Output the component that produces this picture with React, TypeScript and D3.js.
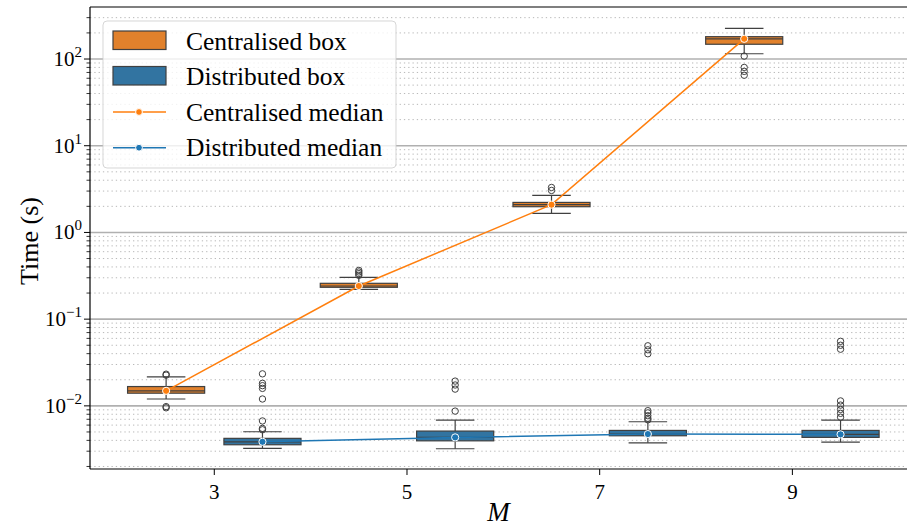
import React from 'react'
import * as d3 from 'd3'

// values (seconds)
const mValues = [3, 5, 7, 9]

const centralisedLow = [0.012, 0.221, 1.66, 115]
const centralisedQ1 = [0.014, 0.233, 1.98, 148]
const centralisedMedian = [0.0149, 0.241, 2.09, 171]
const centralisedQ3 = [0.0167, 0.259, 2.22, 181]
const centralisedHigh = [0.0216, 0.303, 2.68, 226]
const centralisedOutliers = [
    [0.0232, 0.0226, 0.0098, 0.0095],
    [0.365, 0.35, 0.335, 0.32],
    [3.3, 3.05],
    [108, 80, 72, 65],
]

const distributedLow = [0.00324, 0.0032, 0.00375, 0.00382]
const distributedQ1 = [0.00356, 0.00395, 0.00452, 0.00433]
const distributedMedian = [0.00385, 0.00433, 0.00473, 0.00469]
const distributedQ3 = [0.00422, 0.00512, 0.00521, 0.00521]
const distributedHigh = [0.00503, 0.00686, 0.00656, 0.00686]
const distributedOutliers = [
    [0.0234, 0.0182, 0.0171, 0.0159, 0.012, 0.0067, 0.0055, 0.0053],
    [0.0193, 0.0174, 0.0156, 0.0087],
    [0.0493, 0.0443, 0.0399, 0.0088, 0.0083, 0.0077, 0.0072, 0.0069],
    [0.0555, 0.05, 0.045, 0.0114, 0.0102, 0.0091, 0.0082, 0.0074],
]

const majorTicks = [1e-2, 1e-1, 1e0, 1e1, 1e2]
const majorExponents = ['\u22122', '\u22121', '0', '1', '2']

const legendLabels = ['Centralised box', 'Distributed box', 'Centralised median', 'Distributed median']

const W = 907
const H = 527
const left = 90
const top = 7
const bottom = 469
const right = 908

const FONT = "'Liberation Serif', 'DejaVu Serif', serif"
const EDGE = '#404040'

const series = [
    {
        name: 'centralised',
        offset: -0.5,
        fill: '#e1812c',
        line: '#ff7f0e',
        low: centralisedLow,
        q1: centralisedQ1,
        median: centralisedMedian,
        q3: centralisedQ3,
        high: centralisedHigh,
        outliers: centralisedOutliers,
    },
    {
        name: 'distributed',
        offset: 0.5,
        fill: '#3274a1',
        line: '#1f77b4',
        low: distributedLow,
        q1: distributedQ1,
        median: distributedMedian,
        q3: distributedQ3,
        high: distributedHigh,
        outliers: distributedOutliers,
    },
]

const x = d3.scaleLinear().domain([1.71, 10.2]).range([left, right])
const y = d3.scaleLog().domain([0.00187, 398]).range([bottom, top])

const boxWidth = x(0.8) - x(0)

// minor ticks 2..9 of every decade inside the domain
const minorTicks: number[] = []
for (let e = -3; e <= 2; e++) {
    for (let k = 2; k <= 9; k++) {
        const v = k * Math.pow(10, e)
        if (v > y.domain()[0] && v < y.domain()[1]) minorTicks.push(v)
    }
}

const Box = ({ s, i }) => {
    const cx = x(mValues[i] + s.offset)
    const x0 = cx - boxWidth / 2
    const cap = boxWidth / 4
    return (
        <g>
            <line x1={cx} x2={cx} y1={y(s.q3[i])} y2={y(s.high[i])} stroke={EDGE} strokeWidth={1.2} />
            <line x1={cx} x2={cx} y1={y(s.q1[i])} y2={y(s.low[i])} stroke={EDGE} strokeWidth={1.2} />
            <line x1={cx - cap} x2={cx + cap} y1={y(s.high[i])} y2={y(s.high[i])} stroke={EDGE} strokeWidth={1.2} />
            <line x1={cx - cap} x2={cx + cap} y1={y(s.low[i])} y2={y(s.low[i])} stroke={EDGE} strokeWidth={1.2} />
            <rect
                x={x0}
                y={y(s.q3[i])}
                width={boxWidth}
                height={y(s.q1[i]) - y(s.q3[i])}
                fill={s.fill}
                stroke={EDGE}
                strokeWidth={1.2}
            />
            <line x1={x0} x2={x0 + boxWidth} y1={y(s.median[i])} y2={y(s.median[i])} stroke={EDGE} strokeWidth={1.2} />
            {s.outliers[i].map((v, j) => (
                <circle key={j} cx={cx} cy={y(v)} r={3.2} fill='none' stroke={EDGE} strokeWidth={1} />
            ))}
        </g>
    )
}

const App = () => {
    return (
        <svg width={W} height={H} style={{ position: 'absolute', left: 0, top: 0 }} fontFamily={FONT}>
            <defs>
                <clipPath id='plot'>
                    <rect x={left} y={top} width={right - left} height={bottom - top} />
                </clipPath>
            </defs>
            <rect width={W} height={H} fill='white' />

            {/* grid */}
            <g clipPath='url(#plot)'>
                {minorTicks.map(v => (
                    <line key={v} x1={left} x2={right} y1={y(v)} y2={y(v)} stroke='#b8b8b8' strokeWidth={1} strokeDasharray='1.3 3' />
                ))}
                {majorTicks.map(v => (
                    <line key={v} x1={left} x2={right} y1={y(v)} y2={y(v)} stroke='#b0b0b0' strokeWidth={1.6} />
                ))}
            </g>

            {/* boxes and median lines */}
            <g clipPath='url(#plot)'>
                {series.map(s => mValues.map((m, i) => (
                    <Box key={s.name + m} s={s} i={i} />
                )))}
                {series.map(s => {
                    const medianLine = d3
                        .line<number>()
                        .x((d, i) => x(mValues[i] + s.offset))
                        .y(d => y(d))
                    return (
                        <g key={s.name}>
                            <path d={medianLine(s.median) || ''} fill='none' stroke={s.line} strokeWidth={1.5} />
                            {s.median.map((v, i) => (
                                <circle key={i} cx={x(mValues[i] + s.offset)} cy={y(v)} r={3.6} fill={s.line} stroke='white' strokeWidth={1} />
                            ))}
                        </g>
                    )
                })}
            </g>

            {/* spines */}
            <line x1={left} x2={left} y1={top} y2={bottom} stroke='#000' strokeWidth={1.2} />
            <line x1={left} x2={right} y1={bottom} y2={bottom} stroke='#000' strokeWidth={1.2} />
            <line x1={left} x2={right} y1={top} y2={top} stroke='#000' strokeWidth={1.2} />

            {/* y axis */}
            {minorTicks.map(v => (
                <line key={v} x1={left - 3.5} x2={left} y1={y(v)} y2={y(v)} stroke='#000' strokeWidth={0.8} />
            ))}
            {majorTicks.map((v, i) => (
                <g key={v}>
                    <line x1={left - 6} x2={left} y1={y(v)} y2={y(v)} stroke='#000' strokeWidth={1} />
                    <text x={left - 8} y={y(v) + 7} textAnchor='end' fontSize={21} fill='#000'>
                        10
                        <tspan dy={-9} fontSize={15}>{majorExponents[i]}</tspan>
                    </text>
                </g>
            ))}
            <text transform={`translate(38, 241) rotate(-90)`} textAnchor='middle' fontSize={26} fill='#000'>
                Time (s)
            </text>

            {/* x axis */}
            {mValues.map(m => (
                <g key={m}>
                    <line x1={x(m)} x2={x(m)} y1={bottom} y2={bottom + 6} stroke='#000' strokeWidth={1} />
                    <text x={x(m)} y={bottom + 30} textAnchor='middle' fontSize={21} fill='#000'>
                        {m}
                    </text>
                </g>
            ))}
            <text x={(left + W) / 2} y={521} textAnchor='middle' fontSize={27} fontStyle='italic' fill='#000'>
                M
            </text>

            {/* legend */}
            <g>
                <rect x={103} y={21} width={293} height={147} rx={4} fill='white' fillOpacity={0.8} stroke='#cccccc' strokeOpacity={0.8} />
                {series.map((s, i) => (
                    <rect key={s.name} x={113} y={31 + i * 35.5} width={53} height={18.5} fill={s.fill} stroke={EDGE} strokeWidth={1.2} />
                ))}
                {series.map((s, i) => (
                    <g key={s.name}>
                        <line x1={113} x2={166} y1={112 + i * 35.7} y2={112 + i * 35.7} stroke={s.line} strokeWidth={1.5} />
                        <circle cx={139} cy={112 + i * 35.7} r={3.4} fill={s.line} stroke='white' strokeWidth={1} />
                    </g>
                ))}
                {legendLabels.map((t, i) => (
                    <text key={t} x={186} y={49.5 + i * 35.6} fontSize={25.5} fill='#000'>
                        {t}
                    </text>
                ))}
            </g>
        </svg>
    )
}

export default App
